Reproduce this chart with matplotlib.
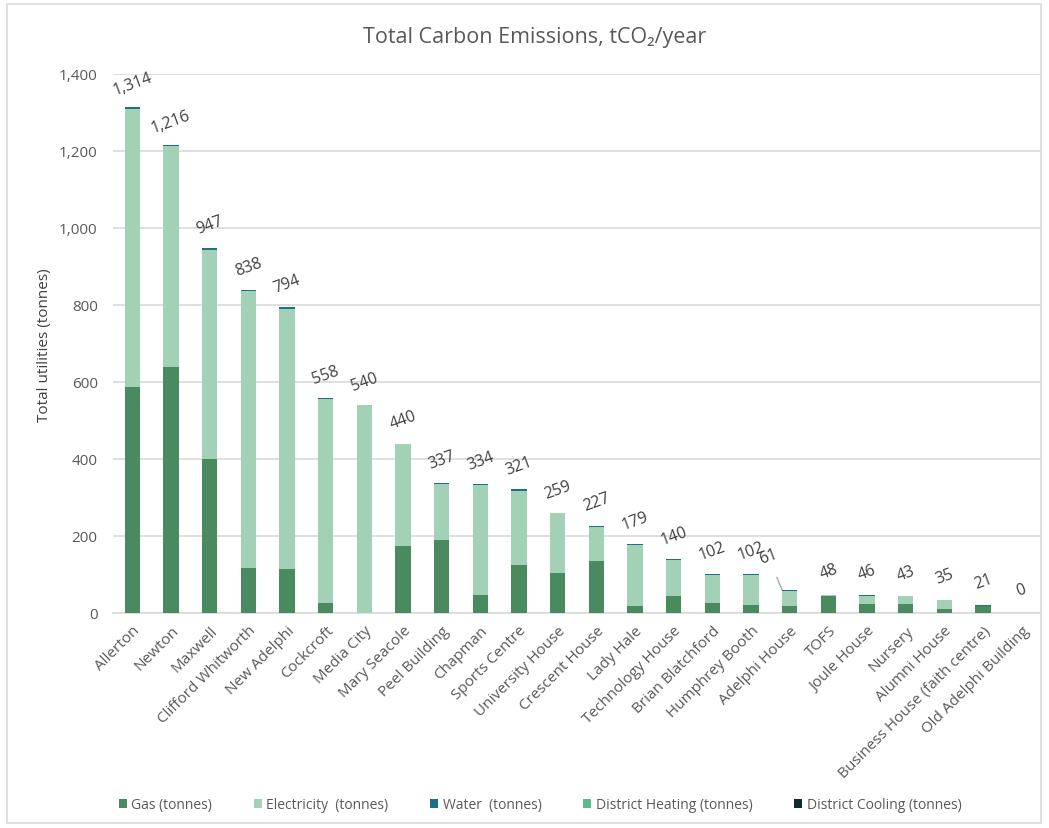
import matplotlib
matplotlib.use("Agg")
import matplotlib.pyplot as plt
from matplotlib.patches import FancyBboxPatch
import numpy as np

plt.rcParams['font.family'] = ['Open Sans', 'DejaVu Sans']

buildings = ["Allerton", "Newton", "Maxwell", "Clifford Whitworth", "New Adelphi",
             "Cockcroft", "Media City", "Mary Seacole", "Peel Building", "Chapman",
             "Sports Centre", "University House", "Crescent House", "Lady Hale",
             "Technology House", "Brian Blatchford", "Humphrey Booth", "Adelphi House",
             "TOFS", "Joule House", "Nursery", "Alumni House",
             "Business House (faith centre)", "Old Adelphi Building"]
totals = [1314, 1216, 947, 838, 794, 558, 540, 440, 337, 334, 321, 259, 227, 179,
          140, 102, 102, 61, 48, 46, 43, 35, 21, 0]
gas = [586, 640, 400, 117, 113, 26, 0, 175, 190, 47, 125, 103, 134, 17,
       43, 26, 21, 19, 43, 24, 24, 10, 19, 0]
water = [4, 4, 5, 2, 4, 2, 0, 2, 3, 2, 3, 0, 3, 2,
         2, 2, 2, 3, 0, 2, 0, 2, 2, 0]
district_heating = [0] * 24
district_cooling = [0] * 24
electricity = [t - g - w - h - c for t, g, w, h, c in
               zip(totals, gas, water, district_heating, district_cooling)]

series = [("Gas (tonnes)", gas, "#4a8a5f"),
          ("Electricity  (tonnes)", electricity, "#a2d1b5"),
          ("Water  (tonnes)", water, "#1b7189"),
          ("District Heating (tonnes)", district_heating, "#5cb98b"),
          ("District Cooling (tonnes)", district_cooling, "#0f2a30")]

fig = plt.figure(figsize=(10.49, 8.29), dpi=100)
W, H = 1049, 829
ax = fig.add_axes([113 / W, 1 - 614 / H, (1041 - 113) / W, (614 - 75) / H])

x = np.arange(len(buildings))
bottom = np.zeros(len(buildings))
handles = []
for name, vals, col in series:
    b = ax.bar(x, vals, 0.39, bottom=bottom, color=col, label=name, zorder=3)
    handles.append(b)
    bottom += np.array(vals)

ax.set_xlim(-0.5, len(buildings) - 0.5)
ax.set_ylim(0, 1400)
ax.set_yticks(np.arange(0, 1401, 200))
ax.yaxis.set_major_formatter(matplotlib.ticker.FuncFormatter(lambda v, p: f"{int(v):,}"))
ax.grid(axis='y', color='#d9d9d9', linewidth=1.2, zorder=0)
for s in ['top', 'right', 'left']:
    ax.spines[s].set_visible(False)
ax.spines['bottom'].set_color('#d9d9d9')
ax.spines['bottom'].set_linewidth(1.2)
ax.tick_params(axis='both', length=0, colors='#595959', labelsize=11)
ax.tick_params(axis='y', pad=11)
ax.set_xticks(x)
ax.set_xticklabels(buildings, rotation=45, ha='right', rotation_mode='anchor',
                   fontsize=11, color='#595959')
ax.tick_params(axis='x', pad=7)

for i, t in enumerate(totals):
    if buildings[i] == "Adelphi House":
        ax.annotate(f"{t:,}", xy=(i - 0.2, t), xytext=(-10, 24), textcoords='offset points',
                    ha='center', va='center', rotation=20, fontsize=11.5, color='#404040',
                    arrowprops=dict(arrowstyle='-', color='#a6a6a6', lw=1,
                                    shrinkA=6, shrinkB=0))
    else:
        ax.annotate(f"{t:,}", xy=(i, t), xytext=(0, 17), textcoords='offset points',
                    ha='center', va='center', rotation=20, fontsize=11.5, color='#404040')

fig.text(0.51, 1 - 38 / H, "Total Carbon Emissions, tCO₂/year", ha='center', va='center',
         fontsize=15.5, color='#595959')
fig.text(45 / W, 1 - 345 / H, "Total utilities (tonnes)", rotation=90, ha='center',
         va='center', fontsize=11, color='#404040')

fig.legend(handles=handles, loc='center', bbox_to_anchor=(540 / W, 1 - 806 / H),
           ncol=5, frameon=False, fontsize=10, handlelength=0.6, handleheight=0.6,
           handletextpad=0.3, columnspacing=3.0, labelcolor='#595959')

fig.patches.append(FancyBboxPatch((7 / W, 5 / H), (1041 - 7) / W, (824 - 5) / H,
                                  boxstyle='square,pad=0', transform=fig.transFigure,
                                  fill=False, edgecolor='#d9d9d9', linewidth=1.2))

fig.savefig("out.png", dpi=100)
